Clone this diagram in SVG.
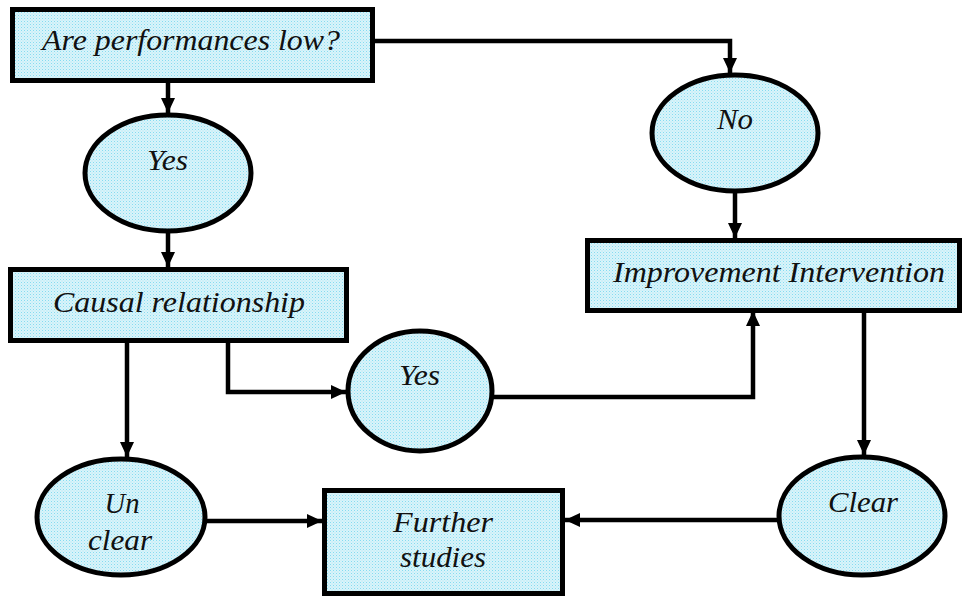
<svg xmlns="http://www.w3.org/2000/svg" width="964" height="598" viewBox="0 0 964 598">
<style>
.shape{fill:url(#dots);stroke:#000;stroke-width:5}
.lbl{font-family:"Liberation Serif","Times New Roman",serif;font-style:italic;font-size:30px;fill:#111;text-anchor:middle}
.conn{fill:none;stroke:#000;stroke-width:4.5;marker-end:url(#arr)}
</style>
<defs>
<pattern id="dots" width="3" height="3" patternUnits="userSpaceOnUse">
<rect width="3" height="3" fill="#d9f4fa"/>
<rect width="1" height="1" fill="#86dbf0"/>
<rect x="1.5" y="1.5" width="1" height="1" fill="#aee7f5"/>
</pattern>
<marker id="arr" markerUnits="userSpaceOnUse" markerWidth="16" markerHeight="16" viewBox="0 0 16 16" refX="15" refY="8" orient="auto">
<path d="M0,1 L15,8 L0,15 Z" fill="#000"/>
</marker>
</defs>
<rect width="964" height="598" fill="#fff"/>
<g id="connectors">
<path class="conn" d="M375,41 H730 V73"/>
<path class="conn" d="M168,83 V113"/>
<path class="conn" d="M168,233 V267"/>
<path class="conn" d="M735,193 V238"/>
<path class="conn" d="M127,343 V457"/>
<path class="conn" d="M228,343 V392 H346"/>
<path class="conn" d="M493,397 H753 V311"/>
<path class="conn" d="M864,311 V455"/>
<path class="conn" d="M206,521 H322"/>
<path class="conn" d="M778,520 H565"/>
</g>
<g id="n_low">
<rect class="shape" x="12.5" y="9.5" width="360" height="71"/>
<text class="lbl" x="191" y="50" textLength="298" lengthAdjust="spacingAndGlyphs">Are performances low?</text>
</g>
<g id="n_yes1">
<ellipse class="shape" cx="168" cy="173" rx="83" ry="58"/>
<text class="lbl" x="167.5" y="170" textLength="41" lengthAdjust="spacingAndGlyphs">Yes</text>
</g>
<g id="n_no">
<ellipse class="shape" cx="735" cy="133" rx="83" ry="58"/>
<text class="lbl" x="735" y="129" textLength="36" lengthAdjust="spacingAndGlyphs">No</text>
</g>
<g id="n_causal">
<rect class="shape" x="10.5" y="269.5" width="336" height="71"/>
<text class="lbl" x="179" y="312" textLength="252" lengthAdjust="spacingAndGlyphs">Causal relationship</text>
</g>
<g id="n_improve">
<rect class="shape" x="587.5" y="240.5" width="372" height="70"/>
<text class="lbl" x="779" y="282" textLength="332" lengthAdjust="spacingAndGlyphs">Improvement Intervention</text>
</g>
<g id="n_yes2">
<ellipse class="shape" cx="420" cy="391" rx="72" ry="60"/>
<text class="lbl" x="419.5" y="385" textLength="41" lengthAdjust="spacingAndGlyphs">Yes</text>
</g>
<g id="n_unclear">
<ellipse class="shape" cx="121" cy="517" rx="84" ry="58"/>
<text class="lbl" x="122" y="513" textLength="35" lengthAdjust="spacingAndGlyphs">Un</text>
<text class="lbl" x="120" y="550" textLength="64" lengthAdjust="spacingAndGlyphs">clear</text>
</g>
<g id="n_further">
<rect class="shape" x="324.5" y="490.5" width="238" height="103"/>
<text class="lbl" x="443" y="532" textLength="100" lengthAdjust="spacingAndGlyphs">Further</text>
<text class="lbl" x="443" y="567" textLength="86" lengthAdjust="spacingAndGlyphs">studies</text>
</g>
<g id="n_clear">
<ellipse class="shape" cx="862" cy="516" rx="83" ry="59"/>
<text class="lbl" x="863" y="512" textLength="70" lengthAdjust="spacingAndGlyphs">Clear</text>
</g>
</svg>
